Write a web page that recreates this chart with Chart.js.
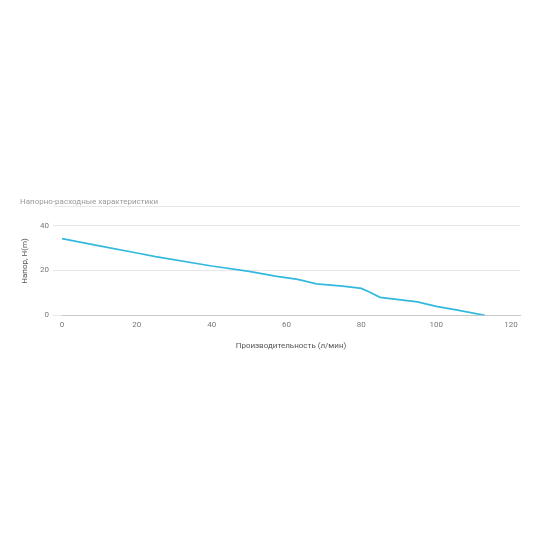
<!DOCTYPE html>
<html>
<head>
<meta charset="utf-8">
<script src="https://cdn.jsdelivr.net/npm/chart.js@4/dist/chart.umd.min.js"></script>
<style>
  html, body { margin: 0; padding: 0; background: #fff; }
  #wrap { position: absolute; left: 0; top: 0; width: 550px; height: 550px; }
</style>
</head>
<body>
<div id="wrap"><canvas id="chart"></canvas></div>
<script>
// flow (l/min) vs head (m)
var flowValues = [0, 10, 20, 25, 40, 50, 57, 63, 68, 75, 80, 82, 85, 95, 100, 105, 113];
var headValues = [34.2, 31, 27.8, 26.2, 22, 19.6, 17.5, 16, 14, 13, 12, 10.5, 8, 6, 4, 2.5, 0];
var xTicks = [0, 20, 40, 60, 80, 100, 120];
var yTicks = [0, 20, 40];

var points = flowValues.map(function (x, i) {
  return { x: x, y: headValues[i] };
});

Chart.defaults.font.family = 'Roboto, "Noto Sans", sans-serif';
Chart.defaults.font.size = 8;

new Chart(document.getElementById('chart'), {
  type: 'scatter',
  data: {
    datasets: [{
      data: points,
      showLine: true,
      borderColor: '#33b9de',
      borderWidth: 1.7,
      pointRadius: 0,
      tension: 0
    }]
  },
  options: {
    responsive: true,
    maintainAspectRatio: false,
    animation: false,
    layout: { padding: { top: 197, left: 20, right: 30, bottom: 199.5 } },
    plugins: {
      legend: { display: false },
      tooltip: { enabled: false },
      title: {
        display: true,
        text: 'Напорно-расходные характеристики',
        align: 'start',
        color: '#9a9a9a',
        font: { size: 8, weight: 'normal' },
        padding: { top: 0, bottom: 0 }
      }
    },
    scales: {
      x: {
        type: 'linear',
        min: 0,
        max: 122.4,
        grid: { display: false, drawTicks: false },
        border: { display: true, color: '#c8c8c8' },
        afterBuildTicks: function (scale) {
          scale.ticks = xTicks.map(function (v) { return { value: v }; });
        },
        ticks: { color: '#777', padding: 5, maxRotation: 0 },
        title: {
          display: true,
          text: 'Производительность (л/мин)',
          color: '#555',
          padding: { top: 6, bottom: 0 }
        }
      },
      y: {
        min: 0,
        max: 48.5,
        afterBuildTicks: function (scale) {
          scale.ticks = yTicks.concat([48.5]).map(function (v) { return { value: v }; });
        },
        afterFit: function (scale) { scale.width = 42; },
        grid: { color: '#e8e8e8', tickLength: 9 },
        border: { display: false },
        ticks: {
          color: '#777',
          padding: 4,
          callback: function (v) { return yTicks.indexOf(v) >= 0 ? v : ''; }
        },
        title: {
          display: true,
          text: 'Напор, Н(m)',
          color: '#555',
          padding: { top: 0, bottom: 0 }
        }
      }
    }
  }
});
</script>
</body>
</html>
